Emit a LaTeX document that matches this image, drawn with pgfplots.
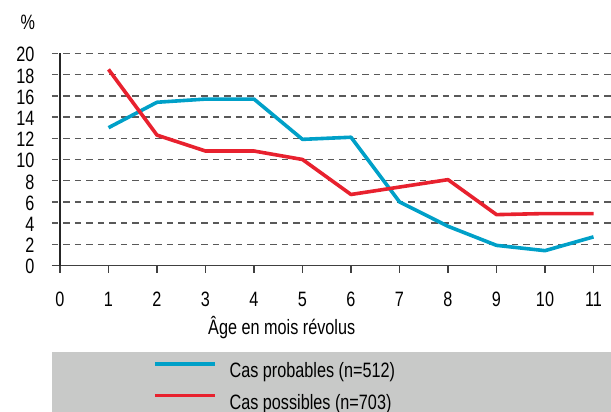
\documentclass[border=0pt]{standalone}
\usepackage{fontspec}
\setmainfont{Liberation Sans}[FakeStretch=0.78]
\usepackage{pgfplots}
\pgfplotsset{compat=1.18}
\definecolor{cblue}{RGB}{0,160,200}
\definecolor{cred}{RGB}{232,33,46}
\definecolor{lgray}{RGB}{200,201,200}
\begin{document}
\begin{tikzpicture}[font=\fontsize{10.4pt}{12pt}\selectfont]
\fill[lgray] (-4pt,-43.25pt) rectangle (290pt,-90pt);
\begin{axis}[
  x=24.25pt, y=5.3pt,
  anchor=origin, at={(0,0)},
  xmin=-0.165, xmax=11.36, ymin=0, ymax=20,
  axis x line=bottom, axis y line=left,
  axis line style={-},
  y axis line style={draw=none},
  x axis line style={black!75, line width=0.6pt},
  xtick={0,...,11}, ytick={0,2,...,20},
  tick align=outside,
  major tick length=3.5pt,
  xtick style={black!75, line width=0.6pt},
  ytick style={draw=none},
  xticklabel style={yshift=-6.3pt},
  yticklabel style={xshift=-1.8pt, yshift=-0.6pt},
  ymajorgrids,
  major grid style={black!65, line width=0.7pt, dash pattern=on 3.25pt off 2.5pt},
  extra x ticks={0}, extra x tick labels={},
  extra x tick style={grid=major, major grid style={solid, black!85, line width=0.6pt}},
  /pgf/number format/assume math mode=true,
  clip=false,
  xlabel={Âge en mois révolus},
  ylabel={\%},
  every axis x label/.style={at={(rel axis cs:0.411,-0.295)}, anchor=center},
  every axis y label/.style={at={(rel axis cs:-0.043,1.1485)}, anchor=center},
  legend style={at={(rel axis cs:0.1807,-0.455)}, anchor=north west, draw=none, fill=none,
    inner sep=0pt, outer sep=0pt, row sep=6.8pt, nodes={inner sep=0pt},
    /tikz/every odd column/.style={column sep=6.5pt}},
  legend cell align=left,
  legend image code/.code={\draw[#1] (0pt,3.7pt) -- (30pt,3.7pt);},
]
\addplot[cblue, line width=1.8pt, line join=round] coordinates {
  (1,13.0)(2,15.4)(3,15.7)(4,15.7)(5,11.9)(6,12.1)(7,6.0)(8,3.7)(9,1.9)(10,1.4)(11,2.7)};
\addlegendentry{Cas probables (n=512)}
\addplot[cred, line width=1.8pt, line join=round] coordinates {
  (1,18.5)(2,12.3)(3,10.8)(4,10.8)(5,10.0)(6,6.7)(7,7.4)(8,8.1)(9,4.8)(10,4.9)(11,4.9)};
\addlegendentry{Cas possibles (n=703)}
\end{axis}
\pgfresetboundingbox
\path[use as bounding box] (-30pt,-73.25pt) rectangle (275.5pt,132.75pt);
\end{tikzpicture}
\end{document}
